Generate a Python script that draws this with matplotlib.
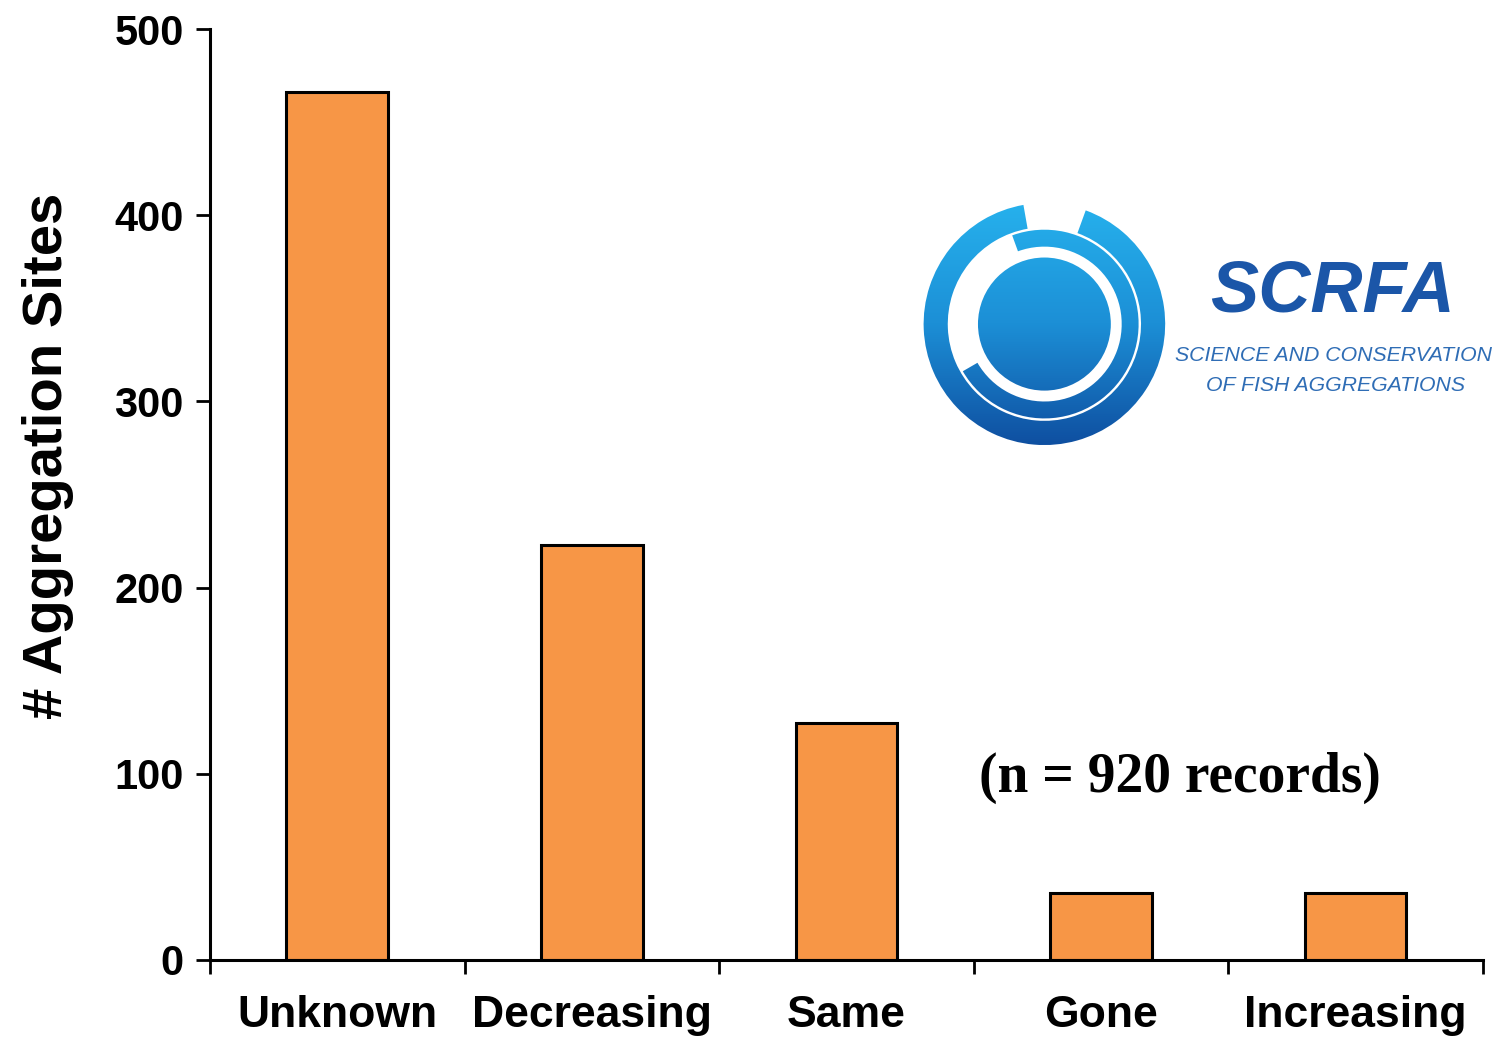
import matplotlib.pyplot as plt
import numpy as np
from matplotlib.colors import LinearSegmentedColormap
from matplotlib.patches import Circle, Wedge

# data
categories = ["Unknown", "Decreasing", "Same", "Gone", "Increasing"]
site_counts = [466, 223, 127, 36, 36]
y_ticks = [0, 100, 200, 300, 400, 500]
note_text = "(n = 920 records)"

BAR_COLOR = "#F79646"
LOGO_DARK = "#1B56A8"
LOGO_TEXT = "#2F6DB5"

plt.rcParams["font.family"] = ["Liberation Sans", "DejaVu Sans"]

fig = plt.figure(figsize=(14.92, 10.37), dpi=100)
ax = fig.add_axes([0.1408, 0.0743, 0.853, 0.8977])

x = np.arange(len(categories))
ax.bar(x, site_counts, width=0.4, color=BAR_COLOR, edgecolor="black", linewidth=2.2)

ax.set_xlim(-0.5, len(categories) - 0.5)
ax.set_ylim(0, 500)
ax.set_yticks(y_ticks)
ax.set_yticklabels([str(t) for t in y_ticks], fontsize=30, fontweight="bold")

# ticks sit between the categories, labels under the bars
ax.set_xticks(np.arange(len(categories) + 1) - 0.5)
ax.set_xticklabels([])
ax.set_xticks(x, minor=True)
ax.set_xticklabels(categories, minor=True, fontsize=32, fontweight="bold")
ax.tick_params(axis="x", which="minor", length=0, pad=25)
ax.tick_params(axis="x", which="major", length=10, width=2, direction="out")
ax.tick_params(axis="y", length=10, width=2, direction="out", pad=9)

for side in ("top", "right"):
    ax.spines[side].set_visible(False)
for side in ("left", "bottom"):
    ax.spines[side].set_linewidth(2.2)

ax.set_ylabel("# Aggregation Sites", fontsize=40.5, fontweight="bold")
ax.yaxis.set_label_coords(-0.107, 0.542)

ax.text(3.31, 98, note_text, ha="center", va="center", fontsize=40,
        fontweight="bold", family=["Liberation Serif", "DejaVu Serif"])

# rough stand-in for the SCRFA logo
lax = fig.add_axes([0.615, 0.565, 0.17, 0.245])
lax.set_xlim(-1.05, 1.05)
lax.set_ylim(-1.05, 1.05)
lax.set_aspect("equal")
lax.axis("off")
grad = np.linspace(0, 1, 256).reshape(-1, 1)
cmap = LinearSegmentedColormap.from_list("logo", ["#0E4C9E", "#1C8FD6", "#27B3EE"])
shapes = [
    Wedge((0, 0), 1.0, 100, 430, width=0.2),
    Wedge((0, 0), 0.78, 210, 470, width=0.14),
    Circle((0, 0), 0.55),
]
for shp in shapes:
    lax.add_patch(shp)
    shp.set_facecolor("none")
    shp.set_edgecolor("none")
    im = lax.imshow(grad, cmap=cmap, extent=[-1.05, 1.05, -1.05, 1.05],
                    origin="lower", aspect="auto", zorder=1)
    im.set_clip_path(shp)

fig.text(0.893, 0.718, "SCRFA", ha="center", va="center", fontsize=52,
         fontweight="bold", style="italic", color=LOGO_DARK)
fig.text(0.894, 0.657, "SCIENCE AND CONSERVATION", ha="center", va="center",
         fontsize=15.3, style="italic", color=LOGO_TEXT)
fig.text(0.895, 0.628, "OF FISH AGGREGATIONS", ha="center", va="center",
         fontsize=15.3, style="italic", color=LOGO_TEXT)

fig.savefig("out.png", dpi=100)
